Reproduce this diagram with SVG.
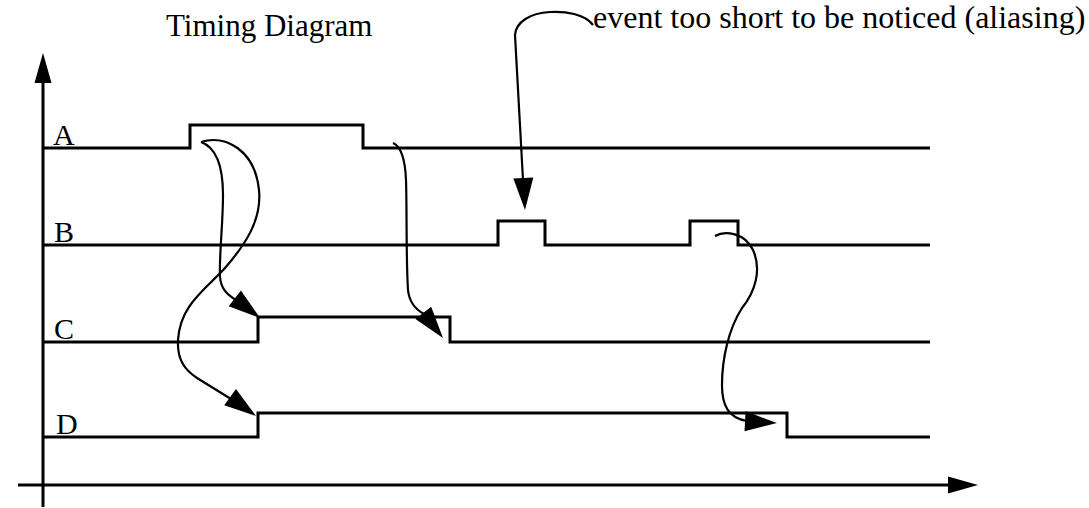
<svg xmlns="http://www.w3.org/2000/svg" xmlns:xlink="http://www.w3.org/1999/xlink" width="1089" height="508" viewBox="0 0 1089 508">
<style>
.sig{fill:none;stroke:#000;stroke-width:3;stroke-linejoin:miter}
.ax{fill:none;stroke:#000;stroke-width:3}
.cv{fill:none;stroke:#000;stroke-width:2.2}
.ah{fill:#000;stroke:none}
text{font-family:"Liberation Serif","Times New Roman",serif;fill:#000}
.lbl{font-size:30px}
.ttl{font-size:31px}
.note{font-size:32px}
</style>
<defs>
<path id="ah" d="M0,0 L-32,-10 L-32,10 Z"/>
<path id="axh" d="M0,0 L-30,-8.5 L-30,8.5 Z"/>
</defs>
<rect width="1089" height="508" fill="#fff"/>
<g id="title"><text class="ttl" x="166" y="36">Timing Diagram</text></g>
<g id="note"><text class="note" x="593" y="28">event too short to be noticed (aliasing)</text></g>
<g id="axes">
<path class="ax" d="M43,80 V507"/>
<use xlink:href="#axh" class="ah" transform="translate(43,53) rotate(-90)"/>
<path class="ax" d="M18,485 H950"/>
<use xlink:href="#axh" class="ah" transform="translate(978,485)"/>
</g>
<g id="signalA"><path class="sig" d="M43,148 H190 V125 H363 V148 H930"/><text class="lbl" x="53" y="145">A</text></g>
<g id="signalB"><path class="sig" d="M43,245 H498 V221 H545 V245 H690 V221 H738 V245 H930"/><text class="lbl" x="54" y="242">B</text></g>
<g id="signalC"><path class="sig" d="M43,342 H258 V317 H450 V342 H930"/><text class="lbl" x="54" y="339">C</text></g>
<g id="signalD"><path class="sig" d="M43,437 H258 V413 H787 V437 H930"/><text class="lbl" x="56" y="434">D</text></g>
<g id="connectors">
<path class="cv" d="M201,142 C215,147 223,165 223,195 C223,225 219,255 220,277 C221,288 226,294 236,300"/>
<use xlink:href="#ah" class="ah" transform="translate(260,318) rotate(38)"/>
<path class="cv" d="M201,142 C225,134 255,150 259,190 C262,220 245,245 225,268 C205,290 180,305 178,340 C177,360 185,370 197,378 L231,399"/>
<use xlink:href="#ah" class="ah" transform="translate(256,416) rotate(36)"/>
<path class="cv" d="M393,143 C400,146 405,155 406,180 C407,210 406,260 408,290 C409,300 413,308 424,314"/>
<use xlink:href="#ah" class="ah" transform="translate(443,338) rotate(52)"/>
<path class="cv" d="M593,25 C585,14 565,11 550,12 C530,13 516,22 515,35 L523,180"/>
<use xlink:href="#ah" class="ah" transform="translate(525,210) rotate(87)"/>
<path class="cv" d="M715,236 C725,230 745,233 753,250 C762,270 755,292 742,308 C728,330 722,360 722,385 C722,405 728,418 747,421"/>
<use xlink:href="#ah" class="ah" transform="translate(777,423) rotate(3)"/>
</g>
</svg>
